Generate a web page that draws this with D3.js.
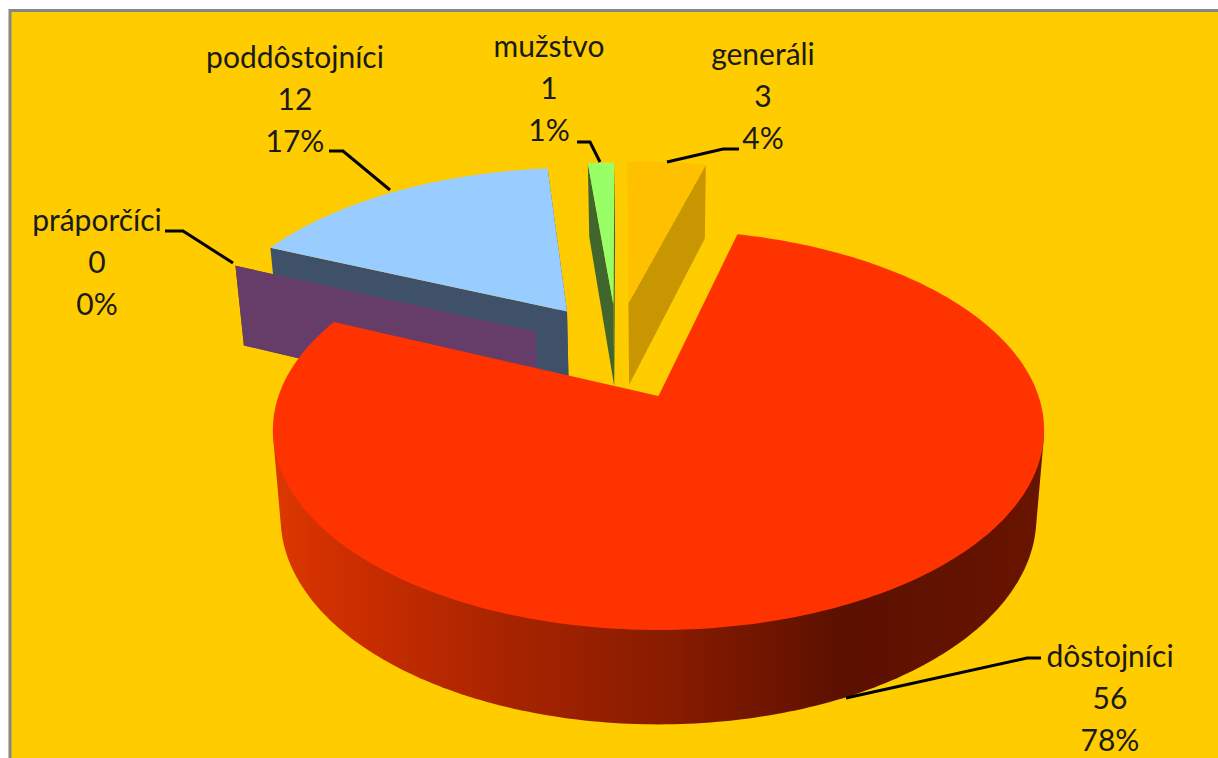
<!DOCTYPE html>
<html>
<head>
<meta charset="utf-8">
<script src="https://cdn.jsdelivr.net/npm/d3@7"></script>
<style>
  html, body { margin: 0; background: #fff; }
  text { font-family: Lato, "Open Sans", sans-serif; fill: #1a1a1a; }
</style>
</head>
<body>
<div class="canvas"></div>
<script>
// data
const names = ['generáli', 'dôstojníci', 'práporčíci', 'poddôstojníci', 'mužstvo'];
const counts = [3, 56, 0, 12, 1];
const percents = ['4%', '78%', '0%', '17%', '1%'];

// colours per slice
const topColors = ['#ffc000', '#ff3300', '#663d68', '#99ccff', '#99ff66'];
const wallColors = ['#c79600', '#ff3300', '#663d68', '#3f5168', '#40662e'];

// how far each slice is pulled out of the pie, in pie radii
const explode = [[-0.086, 0.52], [0, 0], [-0.343, 0.35], [-0.26, 0.47], [-0.129, 0.51]];

// label centre and first baseline
const labelPos = [[763, 65], [1110, 667], [97, 231], [295, 68], [549, 57]];
const lineGap = 42;

const leaders = [
  [[667, 162], [723, 149], [739, 149]],
  [[846, 698], [1027, 658], [1041, 658]],
  [[233, 263], [183, 231], [165, 231]],
  [[390, 190], [343, 151], [329, 151]],
  [[600, 162], [590, 142], [577, 142]]
];

const width = 1218, height = 758;
const startAngle = -1 * Math.PI / 180;

const svg = d3.select('.canvas')
  .append('svg')
    .attr('width', width)
    .attr('height', height)
    .style('display', 'block');

// chart background with the grey frame
svg.append('rect')
  .attr('x', 10).attr('y', 10.5)
  .attr('width', width + 20).attr('height', height + 20)
  .attr('fill', '#ffcc00')
  .attr('stroke', '#868686')
  .attr('stroke-width', 3);

// perspective of the pie: u,v in pie radii, far side is smaller
const cx = 658.5, cy = 396, persp = 0.17;
const scaleU = d3.scaleLinear().domain([0, 1]).range([cx, cx + 380]);
const scaleV = d3.scaleLinear().domain([0, 1]).range([cy, cy - 194.2]);

function topPt(u, v) {
  const w = 1 + persp * v;
  return [scaleU(u / w), scaleV(v / w)];
}
function bottomPt(u, v) {
  const p = topPt(u, v);
  return [cx + (p[0] - cx) * 0.98, p[1] + 86 - 8.4 * v];
}

const pie = d3.pie().sort(null).startAngle(startAngle).endAngle(startAngle + 2 * Math.PI);
const slices = pie(counts);
const line = d3.line();

function rimPoints(a0, a1, off, fn) {
  const n = Math.max(2, Math.ceil(Math.abs(a1 - a0) * 60));
  return d3.range(n + 1).map(i => {
    const a = a0 + (a1 - a0) * i / n;
    return fn(off[0] + Math.sin(a), off[1] + Math.cos(a));
  });
}

// gradient for the round side of the big slice
const stops = [[0, '#dc3800'], [0.1, '#cc2e00'], [0.3, '#a82400'], [0.5, '#8a1c00'], [0.74, '#5c1000'], [1, '#681400']];
const grad = svg.append('defs').append('linearGradient')
  .attr('id', 'side')
  .attr('gradientUnits', 'userSpaceOnUse')
  .attr('x1', 273).attr('x2', 1044).attr('y1', 0).attr('y2', 0);
stops.forEach(s => grad.append('stop').attr('offset', s[0]).attr('stop-color', s[1]));

function drawSlice(i) {
  const s = slices[i], off = explode[i];
  const g = svg.append('g');
  // flat walls along both cut edges
  [s.startAngle, s.endAngle].forEach(a => {
    const rim = [off[0] + Math.sin(a), off[1] + Math.cos(a)];
    const wall = [topPt(off[0], off[1]), topPt(rim[0], rim[1]), bottomPt(rim[0], rim[1]), bottomPt(off[0], off[1])];
    g.append('path').attr('d', line(wall) + 'Z').attr('fill', wallColors[i]);
  });
  if (s.endAngle > s.startAngle) {
    const pts = [topPt(off[0], off[1])].concat(rimPoints(s.startAngle, s.endAngle, off, topPt));
    g.append('path').attr('d', line(pts) + 'Z').attr('fill', topColors[i]);
  }
}

// back slices first, big one on top
[3, 2, 4, 0].forEach(drawSlice);

// big slice: round side is the hull of the near half of both rims, top face goes over it
const big = slices[1];
const a0 = 100 * Math.PI / 180, a1 = 260 * Math.PI / 180;
const sideTop = rimPoints(a0, a1, [0, 0], topPt);
const sideBottom = rimPoints(a0, a1, [0, 0], bottomPt);
svg.append('path').attr('d', line(d3.polygonHull(sideTop.concat(sideBottom))) + 'Z').attr('fill', 'url(#side)');
const bigTop = [topPt(0, 0)].concat(rimPoints(big.startAngle, big.endAngle, [0, 0], topPt));
svg.append('path').attr('d', line(bigTop) + 'Z').attr('fill', topColors[1]);

// leader lines
svg.selectAll('path.leader')
  .data(leaders)
  .enter()
  .append('path')
    .attr('class', 'leader')
    .attr('d', d => line(d))
    .attr('fill', 'none')
    .attr('stroke', '#000')
    .attr('stroke-width', 3);

// labels: name, count, percent
names.forEach((name, i) => {
  [name, counts[i], percents[i]].forEach((t, j) => {
    svg.append('text')
      .attr('x', labelPos[i][0])
      .attr('y', labelPos[i][1] + j * lineGap)
      .attr('text-anchor', 'middle')
      .attr('font-size', 30)
      .text(t);
  });
});
</script>
</body>
</html>
